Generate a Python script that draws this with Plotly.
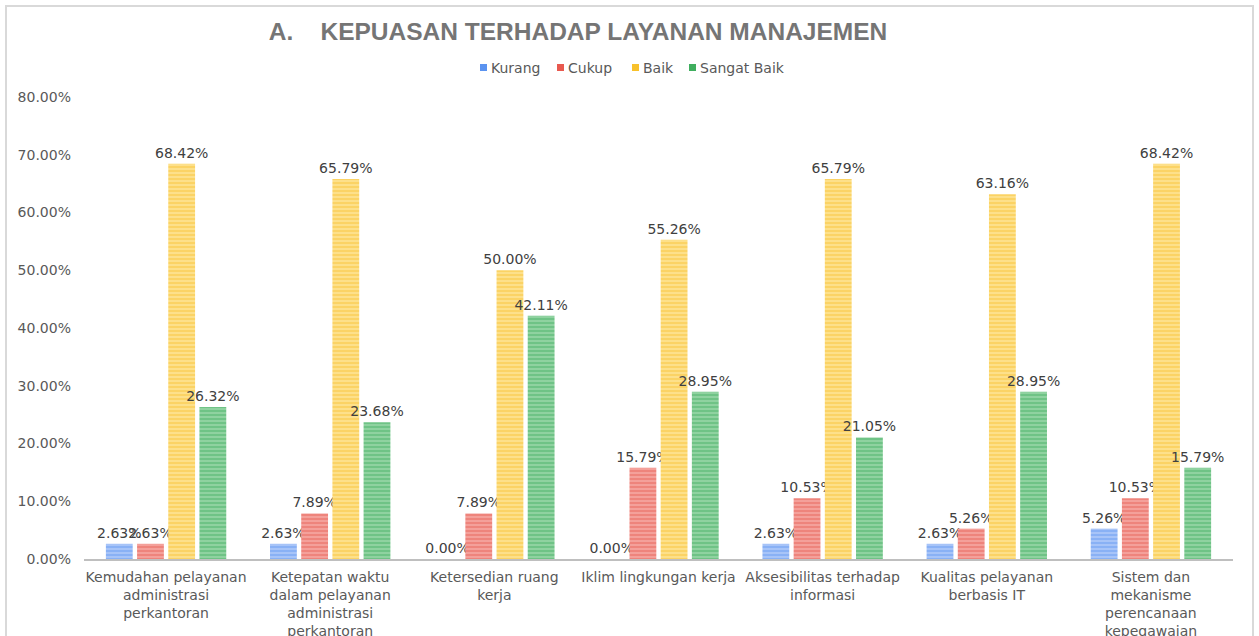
import plotly.graph_objects as go

categories = [
    "Kemudahan pelayanan<br>administrasi<br>perkantoran",
    "Ketepatan waktu<br>dalam pelayanan<br>administrasi<br>perkantoran",
    "Ketersedian ruang<br>kerja",
    "Iklim lingkungan kerja",
    "Aksesibilitas terhadap<br>informasi",
    "Kualitas pelayanan<br>berbasis IT",
    "Sistem dan<br>mekanisme<br>perencanaan<br>kepegawaian",
]
series_names = ["Kurang", "Cukup", "Baik", "Sangat Baik"]
kurang = [0.0263, 0.0263, 0.0, 0.0, 0.0263, 0.0263, 0.0526]
cukup = [0.0263, 0.0789, 0.0789, 0.1579, 0.1053, 0.0526, 0.1053]
baik = [0.6842, 0.6579, 0.5000, 0.5526, 0.6579, 0.6316, 0.6842]
sangat_baik = [0.2632, 0.2368, 0.4211, 0.2895, 0.2105, 0.2895, 0.1579]
values = [kurang, cukup, baik, sangat_baik]

bg_colors = ["#a7c4f8", "#f4a09a", "#fde08a", "#8fd2a0"]
fg_colors = ["#5b93f0", "#e8594f", "#f8c12b", "#3fae5e"]

# layout helpers (pixel -> paper)
L, R, T, B, W, H = 84, 26, 97, 77, 1259, 636
PW, PH = W - L - R, H - T - B
def px(x):
    return (x - L) / PW
def py(y):
    return (H - B - y) / PH

SMALL = "DejaVu Sans"

fig = go.Figure()
for name, vals, bg, fg in zip(series_names, values, bg_colors, fg_colors):
    fig.add_trace(go.Bar(
        name=name, x=categories, y=vals,
        marker=dict(color=bg, line=dict(width=0),
                    pattern=dict(shape="-", fgcolor=fg, bgcolor=bg, size=4, solidity=0.4)),
        texttemplate="%{y:.2%}", textposition="outside",
        textfont=dict(size=14, color="#404040", family=SMALL),
        cliponaxis=False, constraintext="none", showlegend=False,
    ))

fig.update_layout(
    width=W, height=H,
    paper_bgcolor="white", plot_bgcolor="white",
    margin=dict(l=L, r=R, t=T, b=B),
    barmode="group", bargap=0.24, bargroupgap=0.14,
    font=dict(family=SMALL, color="#595959"),
    title=dict(text="A.&nbsp;&nbsp;&nbsp;&nbsp;KEPUASAN TERHADAP LAYANAN MANAJEMEN",
               x=578/W, xref="container", xanchor="center",
               y=1-31/H, yref="container", yanchor="middle",
               font=dict(size=24.5, color="#757575", family="Liberation Sans", weight="bold")),
    showlegend=False,
)
fig.update_yaxes(range=[0, 0.8], dtick=0.1, tickformat=".2%", showgrid=False,
                 zeroline=False, showline=False, ticks="", ticklabelstandoff=12,
                 tickfont=dict(size=14, color="#595959", family=SMALL))
fig.update_xaxes(showline=True, linecolor="#bfbfbf", linewidth=2, ticks="",
                 ticklabelstandoff=4,
                 tickfont=dict(size=14, color="#595959", family=SMALL), automargin=False)

# outer frame
fig.add_shape(type="rect", xref="paper", yref="paper",
              x0=px(6), x1=px(1253), y0=py(660), y1=py(6),
              line=dict(color="#d9d9d9", width=2), layer="below")

# legend (manual, to match compact spacing)
legend_sq = [480, 557, 632, 689]
for name, fg, x0 in zip(series_names, fg_colors, legend_sq):
    fig.add_shape(type="rect", xref="paper", yref="paper",
                  x0=px(x0), x1=px(x0 + 7), y0=py(71), y1=py(64),
                  fillcolor=fg, line=dict(width=0))
    fig.add_annotation(xref="paper", yref="paper", x=px(x0 + 9), y=py(67.5),
                       xanchor="left", yanchor="middle", showarrow=False,
                       text=name, font=dict(size=14, color="#595959", family=SMALL))

fig.write_html("out.html", config={"displayModeBar": False},
               post_script="document.body.style.margin='0';document.body.style.overflow='hidden';")
